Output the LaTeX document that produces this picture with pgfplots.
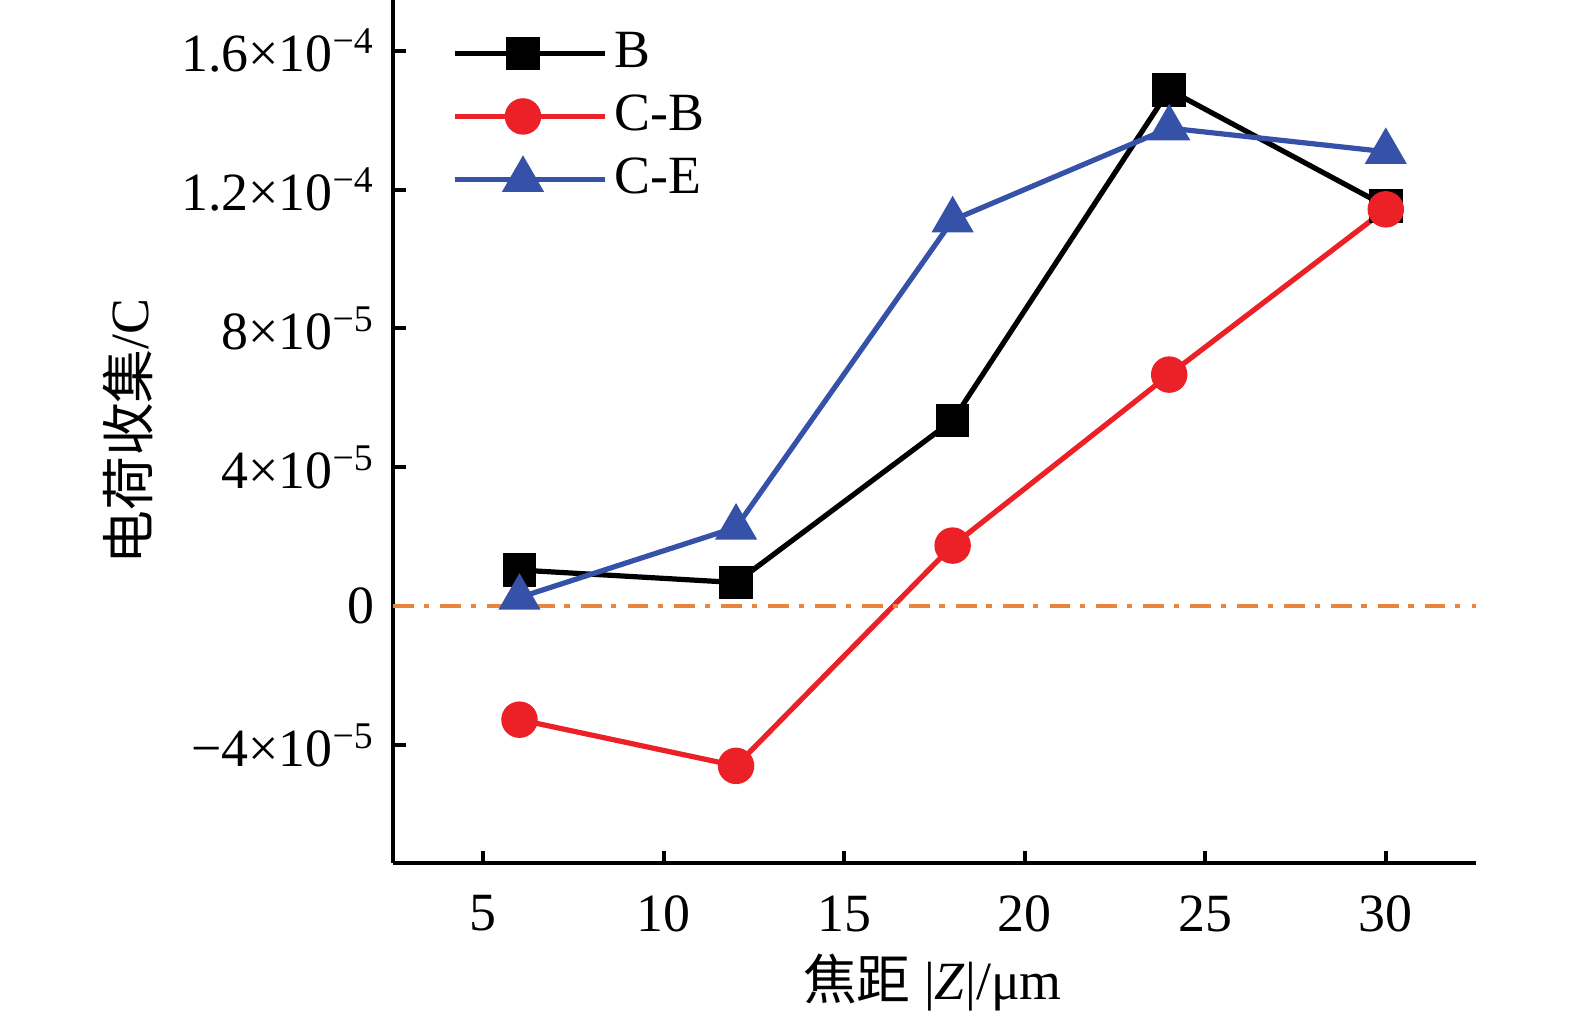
\documentclass[border=0pt]{standalone}
\usepackage{fontspec}
\setmainfont{Liberation Serif}
\newfontfamily\cjk{Noto Sans CJK SC}
\usepackage{pgfplots}
\pgfplotsset{compat=1.18}
\definecolor{cred}{HTML}{EC2027}
\definecolor{cblue}{HTML}{3551A8}
\definecolor{corange}{HTML}{E8843C}
\begin{document}
\fontsize{15.5pt}{18pt}\selectfont
\begin{tikzpicture}
\begin{axis}[
  scale only axis, width=311.8pt, height=248.5pt,
  xmin=2.5, xmax=32.5, ymin=-7.4e-5, ymax=1.746e-4,
  axis lines=left, axis line style={-, line width=1.15pt, black},
  tick align=inside, major tick length=3.6pt,
  tick style={line width=1.15pt, black},
  xtick={5,10,15,20,25,30},
  ytick={-4e-5,0,4e-5,8e-5,1.2e-4,1.6e-4},
  yticklabels={{−4×10\textsuperscript{−5}},{0},{4×10\textsuperscript{−5}},{8×10\textsuperscript{−5}},{1.2×10\textsuperscript{−4}},{1.6×10\textsuperscript{−4}}},
  scaled y ticks=false,
  /pgf/number format/assume math mode=true,
  xticklabel style={yshift=-4pt},
  xlabel={{\cjk 焦距} |\textit{Z}|/μm},
  ylabel={{\cjk 电荷收集}/C},
  xlabel style={at={(axis description cs:0.498,-0.138)}, anchor=center},
  ylabel style={at={(axis description cs:-0.245,0.5)}, anchor=center, rotate=0},
  legend style={at={(axis description cs:0.0545,0.972)}, anchor=north west,
    draw=none, fill=none, inner sep=0pt, row sep=1.6pt},
  legend cell align=left,
  legend image code/.code={\draw[mark repeat=2, mark phase=2] plot coordinates {(0pt,0pt)(19.45pt,0pt)(38.9pt,0pt)};\path (0pt,0pt) -- (43pt,0pt);},
  clip=false,
]
\addplot[black, line width=1.5pt, mark=square*, mark size=4.6pt, mark options={solid, fill=black, line width=0.5pt}]
  coordinates {(6,1.04e-5) (12,0.68e-5) (18,5.35e-5) (24,14.87e-5) (30,11.52e-5)};
\addlegendentry{B}
\addplot[cred, line width=1.5pt, mark=*, mark size=5pt, mark options={solid, fill=cred, line width=0.5pt}]
  coordinates {(6,-3.27e-5) (12,-4.6e-5) (18,1.745e-5) (24,6.67e-5) (30,11.43e-5)};
\addlegendentry{C-B}
\addplot[cblue, line width=1.5pt, mark=triangle*, mark size=6.5pt, mark options={solid, fill=cblue, line width=0.5pt}]
  coordinates {(6,0.25e-5) (12,2.27e-5) (18,11.12e-5) (24,13.77e-5) (30,13.09e-5)};
\addlegendentry{C-E}
\addplot[corange, line width=1pt, dash pattern=on 6pt off 2.8pt on 1.5pt off 3.2pt, forget plot]
  coordinates {(2.5,0) (32.5,0)};
\end{axis}
\pgfresetboundingbox
\path ([shift={(-113.2pt,-44.3pt)}]current axis.south west) rectangle ([shift={(28.5pt,0pt)}]current axis.north east);
\end{tikzpicture}
\end{document}
